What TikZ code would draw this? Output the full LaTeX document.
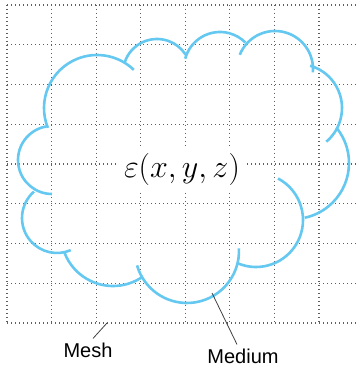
\documentclass[tikz,border=0pt]{standalone}
\usepackage{fontspec}
\newfontfamily\labelfont{Liberation Sans}
\usetikzlibrary{arrows.meta,positioning,calc}
\definecolor{cloudblue}{RGB}{100,200,240}
\definecolor{meshgray}{RGB}{95,95,95}
\begin{document}
\begin{tikzpicture}[x=1pt,y=1pt,>=Stealth,font=\labelfont\fontsize{20}{24}\selectfont]
\tikzstyle{meshline}=[meshgray,line width=1.1pt,dash pattern=on 1.1pt off 2.9pt]
\tikzstyle{cloud}=[cloudblue,line width=2.6pt]
\tikzstyle{pointer}=[black!75,line width=0.8pt]
\useasboundingbox (0,0) rectangle (361,367);
\foreach \i in {0,...,7}
  \draw[meshline] (7+44.57*\i,362) -- (7+44.57*\i,44);
\foreach \j in {0,...,8}
  \draw[meshline] (7,362-39.75*\j) -- (358,362-39.75*\j);
\draw[cloud] (97,259) ++(202:53) arc[start angle=202,end angle=46,radius=53];
\draw[cloud] (157,294) ++(161:34) arc[start angle=161,end angle=33,radius=34];
\draw[cloud] (220,299) ++(165:36) arc[start angle=165,end angle=45,radius=36];
\draw[cloud] (275,298) ++(158:38) arc[start angle=158,end angle=-5,radius=38];
\draw[cloud] (298,259) ++(74:44) arc[start angle=74,end angle=-50,radius=44];
\draw[cloud] (293,204) ++(39:56) arc[start angle=39,end angle=-78,radius=56];
\draw[cloud] (256,147) ++(62:47) arc[start angle=62,end angle=-113,radius=47];
\draw[cloud] (187,116) ++(3:52) arc[start angle=3,end angle=-164,radius=52];
\draw[cloud] (113,133) ++(-55:52) arc[start angle=-55,end angle=-160,radius=52];
\draw[cloud] (57,149) ++(131:35) arc[start angle=131,end angle=293,radius=35];
\draw[cloud] (52,207) ++(100:34) arc[start angle=100,end angle=270,radius=34];
\node[fill=white,inner sep=5pt,scale=1.29,font=\fontsize{24.88}{30}\selectfont] (eps) at (182,198) {$\varepsilon(x,y,z)$};
\node[inner sep=1pt] (mesh) at (88,17) {Mesh};
\node[inner sep=1pt] (medium) at (243,11) {Medium};
\coordinate (meshpt) at (107,44);
\coordinate (medpt) at (212,74);
\draw[pointer] (meshpt) -- ([xshift=5pt,yshift=3pt]mesh.north);
\draw[pointer] (medpt) -- ([xshift=-6pt,yshift=3pt]medium.north);
\end{tikzpicture}
\end{document}
